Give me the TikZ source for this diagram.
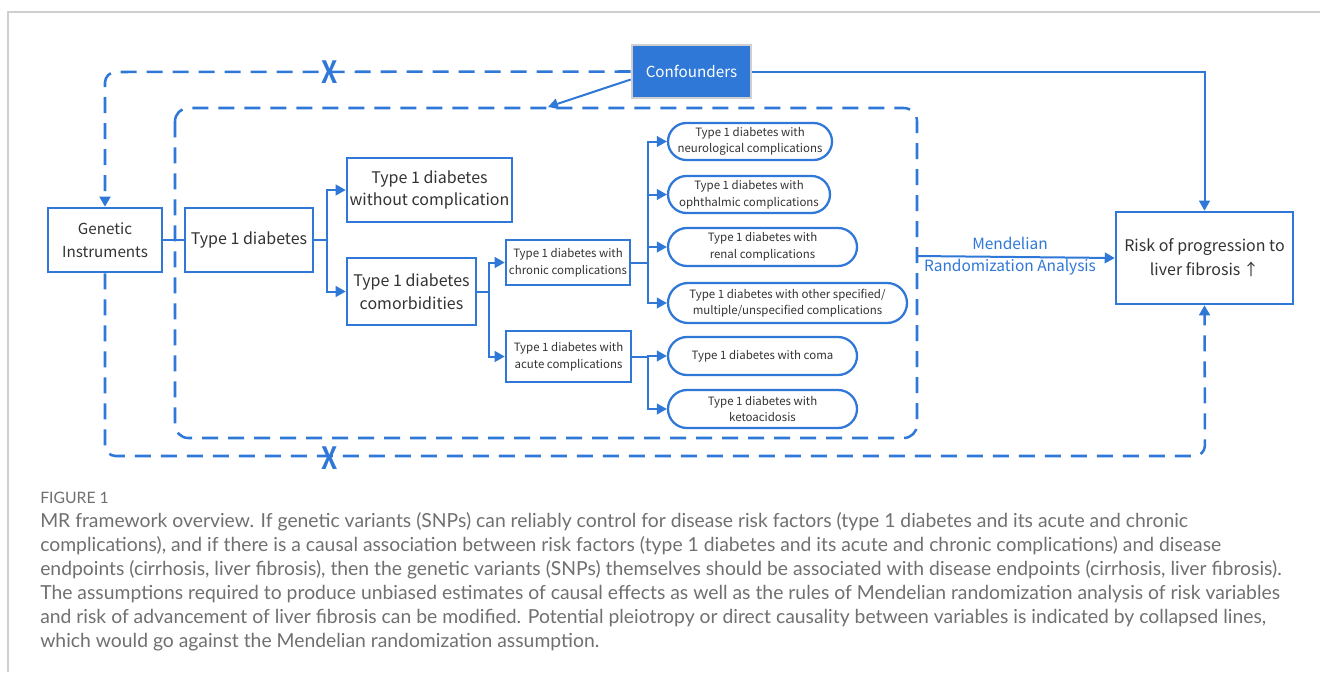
\documentclass[tikz,border=0pt]{standalone}
\usepackage{fontspec}
\usetikzlibrary{arrows.meta,shapes.misc}
\newfontfamily\diagfont{Noto Sans CJK SC}
\newfontfamily\xfont{Noto Sans CJK SC Bold}
\newfontfamily\capfont{Lato}
\definecolor{mblue}{HTML}{2F78D8}
\definecolor{mtxt}{HTML}{333333}
\definecolor{mcap}{HTML}{707070}
\definecolor{mframe}{HTML}{CFCFCF}
\tikzset{
  x=0.75pt, y=-0.75pt,
  tip/.style={-{Triangle[length=7.5pt,width=8pt]}},
  bx/.style={draw=mblue, line width=1.9pt, fill=white, text=mtxt, align=center, inner sep=0pt, font=\diagfont\fontsize{12pt}{17pt}\selectfont},
  sbx/.style={bx, font=\diagfont\fontsize{8.6pt}{12.5pt}\selectfont},
  rbx/.style={draw=mblue, line width=1.7pt, fill=white, text=mtxt, align=center, inner sep=0pt, rounded rectangle, font=\diagfont\fontsize{8.6pt}{12.5pt}\selectfont},
  conn/.style={draw=mblue, line width=1.5pt},
  dsh/.style={draw=mblue, line width=1.9pt, dash pattern=on 12pt off 7.5pt},
  xmark/.style={text=mblue, font=\xfont\fontsize{23pt}{23pt}\selectfont, inner sep=0pt, xscale=0.85},
  lbl/.style={text=mblue, font=\diagfont\fontsize{11.6pt}{14pt}\selectfont, inner sep=0pt},
  capl/.style={anchor=base west, inner sep=0pt, text=mcap, font=\capfont\fontsize{14.5pt}{17pt}\selectfont}
}
\begin{document}
\begin{tikzpicture}
\useasboundingbox (0,0) rectangle (1320,672);
\fill[white] (0,0) rectangle (1320,672);
\draw[mframe, line width=1.2pt] (8,672) -- (8,12) -- (1320,12);

% inner dashed region
\draw[dsh, rounded corners=10pt] (175,108) rectangle (917,438);

% nodes
\node[draw=mframe, line width=2pt, fill=mblue, text=white, minimum width=119*0.75pt, minimum height=53*0.75pt, inner sep=0pt, font=\diagfont\fontsize{11.4pt}{14pt}\selectfont] (conf) at (691.5,71.5) {Confounders};
\node[bx, minimum width=114*0.75pt, minimum height=64*0.75pt, font=\diagfont\fontsize{11.4pt}{17.5pt}\selectfont] (gen) at (105,240) {Genetic\\Instruments};
\node[bx, minimum width=128*0.75pt, minimum height=64*0.75pt] (t1d) at (249,240) {Type 1 diabetes};
\node[bx, minimum width=165*0.75pt, minimum height=64*0.75pt] (wo) at (429.5,190) {Type 1 diabetes\\without complication};
\node[bx, minimum width=129*0.75pt, minimum height=67*0.75pt] (com) at (411.5,291.5) {Type 1 diabetes\\comorbidities};
\node[sbx, minimum width=124*0.75pt, minimum height=45*0.75pt] (chr) at (568,262.5) {Type 1 diabetes with\\chronic complications};
\node[sbx, minimum width=125*0.75pt, minimum height=51*0.75pt] (acu) at (568.5,356.5) {Type 1 diabetes with\\acute complications};
\node[rbx, minimum width=164*0.75pt, minimum height=37*0.75pt] (neu) at (750,141.5) {Type 1 diabetes with\\neurological complications};
\node[rbx, minimum width=162*0.75pt, minimum height=37*0.75pt] (oph) at (749,194.5) {Type 1 diabetes with\\ophthalmic complications};
\node[rbx, minimum width=189*0.75pt, minimum height=38*0.75pt] (ren) at (762.5,247) {Type 1 diabetes with\\renal complications};
\node[rbx, minimum width=239*0.75pt, minimum height=40*0.75pt] (oth) at (787.5,303) {Type 1 diabetes with other specified/\\multiple/unspecified complications};
\node[rbx, minimum width=189*0.75pt, minimum height=38*0.75pt] (coma) at (762.5,356) {Type 1 diabetes with coma};
\node[rbx, minimum width=189*0.75pt, minimum height=38*0.75pt] (keto) at (762.5,409) {Type 1 diabetes with\\ketoacidosis};
\node[bx, minimum width=177*0.75pt, minimum height=92*0.75pt, font=\diagfont\fontsize{12pt}{18pt}\selectfont] (risk) at (1204.5,258) {Risk of progression to\\liver fibrosis\,↑};

% coordinates
\coordinate (j1) at (327,240);
\coordinate (j2) at (489,292);
\coordinate (j3) at (648,263);
\coordinate (j4) at (648,357);
\coordinate (mr) at (917,256);
\coordinate (tl) at (105,72);
\coordinate (bl) at (105,456);
\coordinate (br) at (1205,456);

% solid connectors
\draw[conn] (gen.east) -- (t1d.west);
\draw[conn] (t1d.east) -- (j1);
\draw[conn, tip] (j1) |- (wo.west);
\draw[conn, tip] (j1) |- (com.west);
\draw[conn] (com.east |- j2) -- (j2);
\draw[conn, tip] (j2) |- (chr.west);
\draw[conn, tip] (j2) |- (acu.west);
\draw[conn] (chr.east |- j3) -- (j3);
\draw[conn, tip] (j3) |- (neu.west);
\draw[conn, tip] (j3) |- (oph.west);
\draw[conn, tip] (j3) |- (ren.west);
\draw[conn, tip] (j3) |- (oth.west);
\draw[conn] (acu.east |- j4) -- (j4);
\draw[conn, tip] (j4) |- (coma.west);
\draw[conn, tip] (j4) |- (keto.west);
\draw[conn, tip] (conf.east) -| (risk.north);
\draw[conn, tip] ([yshift=-6pt]conf.west) -- (548,107);
\draw[conn, tip] (mr) -- (risk.west);

% dashed outer paths
\draw[dsh, tip, rounded corners=8pt] (conf.west) -- (tl) -- (gen.north);
\draw[dsh, tip, rounded corners=8pt] (gen.south) -- (bl) -- (br) -- (risk.south);
\node[xmark] (x1) at (330,72) {X};
\node[xmark] (x2) at (330,458) {X};

% labels
\node[lbl] (l1) at (1010,243) {Mendelian};
\node[lbl] (l2) at (1010,267) {Randomization Analysis};

% caption
\node[capl, font=\capfont\fontsize{11.8pt}{13pt}\selectfont] (cap0) at (40,503) {FIGURE 1};
\node[capl] (cap1) at (40,527) {MR framework overview. If genetic variants (SNPs) can reliably control for disease risk factors (type 1 diabetes and its acute and chronic};
\node[capl] (cap2) at (40,551) {complications), and if there is a causal association between risk factors (type 1 diabetes and its acute and chronic complications) and disease};
\node[capl] (cap3) at (40,575) {endpoints (cirrhosis, liver fibrosis), then the genetic variants (SNPs) themselves should be associated with disease endpoints (cirrhosis, liver fibrosis).};
\node[capl] (cap4) at (40,599) {The assumptions required to produce unbiased estimates of causal effects as well as the rules of Mendelian randomization analysis of risk variables};
\node[capl] (cap5) at (40,623) {and risk of advancement of liver fibrosis can be modified. Potential pleiotropy or direct causality between variables is indicated by collapsed lines,};
\node[capl] (cap6) at (40,647) {which would go against the Mendelian randomization assumption.};
\end{tikzpicture}
\end{document}
